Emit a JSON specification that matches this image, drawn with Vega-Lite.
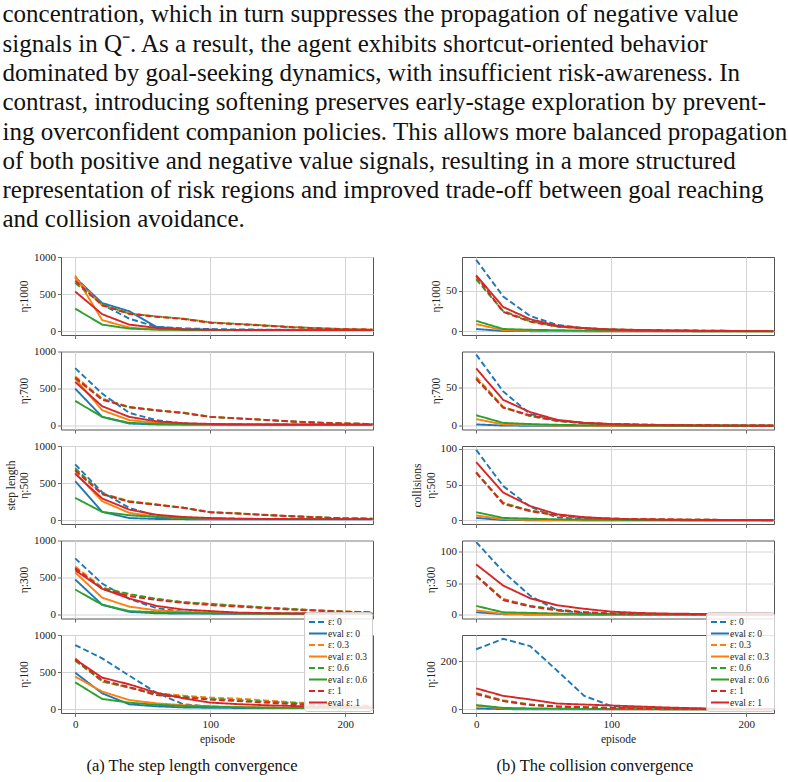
{
"$schema":"https://vega.github.io/schema/vega-lite/v6.json",
"padding":{"left":2,"top":2,"right":0,"bottom":0},
"background":"white",
"title":{"text":["concentration, which in turn suppresses the propagation of negative value","signals in Q⁻.  As a result, the agent exhibits shortcut-oriented behavior","dominated by goal-seeking dynamics, with insufficient risk-awareness.  In","contrast, introducing softening preserves early-stage exploration by prevent-","ing overconfident companion policies. This allows more balanced propagation","of both positive and negative value signals, resulting in a more structured","representation of risk regions and improved trade-off between goal reaching","and collision avoidance."],"anchor":"start","frame":"bounds","font":"Liberation Serif","fontSize":25,"fontWeight":"normal","lineHeight":29.3,"color":"#111","offset":18,"dx":-2},
"datasets":{
"lab":[{"k":"s0","label":"ε: 0"},{"k":"e0","label":"eval ε: 0"},{"k":"s3","label":"ε: 0.3"},{"k":"e3","label":"eval ε: 0.3"},{"k":"s6","label":"ε: 0.6"},{"k":"e6","label":"eval ε: 0.6"},{"k":"s1","label":"ε: 1"},{"k":"e1","label":"eval ε: 1"}],
"d":[
{"m":"s","eta":1000,"ep":0,"s0":730,"e0":720,"s3":720,"e3":750,"s6":650,"e6":305,"s1":680,"e1":535},
{"m":"s","eta":1000,"ep":20,"s0":360,"e0":380,"s3":350,"e3":150,"s6":360,"e6":90,"s1":350,"e1":230},
{"m":"s","eta":1000,"ep":40,"s0":170,"e0":270,"s3":240,"e3":50,"s6":240,"e6":36,"s1":235,"e1":90},
{"m":"s","eta":1000,"ep":60,"s0":60,"e0":60,"s3":200,"e3":25,"s6":200,"e6":22,"s1":195,"e1":45},
{"m":"s","eta":1000,"ep":80,"s0":40,"e0":30,"s3":170,"e3":20,"s6":170,"e6":18,"s1":165,"e1":25},
{"m":"s","eta":1000,"ep":100,"s0":30,"e0":20,"s3":120,"e3":18,"s6":120,"e6":16,"s1":115,"e1":20},
{"m":"s","eta":1000,"ep":120,"s0":25,"e0":18,"s3":100,"e3":16,"s6":100,"e6":15,"s1":95,"e1":18},
{"m":"s","eta":1000,"ep":140,"s0":22,"e0":16,"s3":80,"e3":15,"s6":80,"e6":15,"s1":75,"e1":17},
{"m":"s","eta":1000,"ep":160,"s0":20,"e0":15,"s3":60,"e3":15,"s6":55,"e6":15,"s1":55,"e1":16},
{"m":"s","eta":1000,"ep":180,"s0":18,"e0":15,"s3":40,"e3":15,"s6":40,"e6":15,"s1":40,"e1":16},
{"m":"s","eta":1000,"ep":200,"s0":18,"e0":15,"s3":30,"e3":15,"s6":28,"e6":15,"s1":28,"e1":15},
{"m":"s","eta":1000,"ep":220,"s0":18,"e0":15,"s3":25,"e3":15,"s6":22,"e6":15,"s1":22,"e1":15},
{"m":"s","eta":700,"ep":0,"s0":777,"e0":500,"s3":665,"e3":634,"s6":640,"e6":335,"s1":650,"e1":590},
{"m":"s","eta":700,"ep":20,"s0":433,"e0":120,"s3":366,"e3":210,"s6":360,"e6":120,"s1":350,"e1":263},
{"m":"s","eta":700,"ep":40,"s0":174,"e0":30,"s3":254,"e3":76,"s6":250,"e6":40,"s1":250,"e1":120},
{"m":"s","eta":700,"ep":60,"s0":76,"e0":18,"s3":210,"e3":40,"s6":205,"e6":25,"s1":210,"e1":60},
{"m":"s","eta":700,"ep":80,"s0":30,"e0":15,"s3":180,"e3":25,"s6":175,"e6":18,"s1":170,"e1":35},
{"m":"s","eta":700,"ep":100,"s0":22,"e0":15,"s3":120,"e3":20,"s6":120,"e6":16,"s1":120,"e1":25},
{"m":"s","eta":700,"ep":120,"s0":20,"e0":14,"s3":100,"e3":18,"s6":100,"e6":15,"s1":100,"e1":20},
{"m":"s","eta":700,"ep":140,"s0":18,"e0":14,"s3":80,"e3":16,"s6":80,"e6":15,"s1":80,"e1":18},
{"m":"s","eta":700,"ep":160,"s0":17,"e0":14,"s3":60,"e3":15,"s6":58,"e6":15,"s1":58,"e1":16},
{"m":"s","eta":700,"ep":180,"s0":17,"e0":14,"s3":45,"e3":15,"s6":42,"e6":15,"s1":42,"e1":16},
{"m":"s","eta":700,"ep":200,"s0":16,"e0":14,"s3":32,"e3":15,"s6":30,"e6":15,"s1":30,"e1":15},
{"m":"s","eta":700,"ep":220,"s0":16,"e0":14,"s3":25,"e3":15,"s6":24,"e6":15,"s1":24,"e1":15},
{"m":"s","eta":500,"ep":0,"s0":752,"e0":527,"s3":680,"e3":640,"s6":700,"e6":302,"s1":670,"e1":626},
{"m":"s","eta":500,"ep":20,"s0":378,"e0":113,"s3":360,"e3":257,"s6":360,"e6":113,"s1":350,"e1":293},
{"m":"s","eta":500,"ep":40,"s0":166,"e0":30,"s3":260,"e3":100,"s6":250,"e6":68,"s1":250,"e1":144},
{"m":"s","eta":500,"ep":60,"s0":60,"e0":18,"s3":215,"e3":50,"s6":210,"e6":45,"s1":210,"e1":75},
{"m":"s","eta":500,"ep":80,"s0":30,"e0":15,"s3":170,"e3":30,"s6":168,"e6":30,"s1":168,"e1":45},
{"m":"s","eta":500,"ep":100,"s0":22,"e0":14,"s3":110,"e3":22,"s6":108,"e6":22,"s1":108,"e1":30},
{"m":"s","eta":500,"ep":120,"s0":20,"e0":14,"s3":95,"e3":18,"s6":92,"e6":18,"s1":92,"e1":22},
{"m":"s","eta":500,"ep":140,"s0":18,"e0":14,"s3":75,"e3":16,"s6":72,"e6":16,"s1":72,"e1":18},
{"m":"s","eta":500,"ep":160,"s0":17,"e0":14,"s3":55,"e3":15,"s6":55,"e6":15,"s1":55,"e1":16},
{"m":"s","eta":500,"ep":180,"s0":16,"e0":14,"s3":40,"e3":15,"s6":40,"e6":15,"s1":40,"e1":16},
{"m":"s","eta":500,"ep":200,"s0":16,"e0":14,"s3":25,"e3":15,"s6":25,"e6":15,"s1":25,"e1":15},
{"m":"s","eta":500,"ep":220,"s0":16,"e0":14,"s3":22,"e3":15,"s6":22,"e6":15,"s1":22,"e1":15},
{"m":"s","eta":300,"ep":0,"s0":760,"e0":475,"s3":650,"e3":570,"s6":620,"e6":340,"s1":630,"e1":600},
{"m":"s","eta":300,"ep":20,"s0":420,"e0":135,"s3":370,"e3":230,"s6":360,"e6":135,"s1":350,"e1":350},
{"m":"s","eta":300,"ep":40,"s0":215,"e0":40,"s3":270,"e3":110,"s6":280,"e6":50,"s1":250,"e1":220},
{"m":"s","eta":300,"ep":60,"s0":90,"e0":20,"s3":210,"e3":60,"s6":215,"e6":35,"s1":200,"e1":120},
{"m":"s","eta":300,"ep":80,"s0":40,"e0":16,"s3":170,"e3":40,"s6":170,"e6":25,"s1":160,"e1":70},
{"m":"s","eta":300,"ep":100,"s0":25,"e0":15,"s3":148,"e3":28,"s6":145,"e6":20,"s1":130,"e1":50},
{"m":"s","eta":300,"ep":120,"s0":20,"e0":14,"s3":125,"e3":22,"s6":120,"e6":18,"s1":110,"e1":30},
{"m":"s","eta":300,"ep":140,"s0":18,"e0":14,"s3":100,"e3":18,"s6":98,"e6":16,"s1":90,"e1":22},
{"m":"s","eta":300,"ep":160,"s0":17,"e0":14,"s3":80,"e3":16,"s6":78,"e6":15,"s1":70,"e1":18},
{"m":"s","eta":300,"ep":180,"s0":16,"e0":14,"s3":60,"e3":15,"s6":58,"e6":15,"s1":55,"e1":16},
{"m":"s","eta":300,"ep":200,"s0":16,"e0":14,"s3":45,"e3":15,"s6":42,"e6":15,"s1":40,"e1":15},
{"m":"s","eta":300,"ep":220,"s0":16,"e0":14,"s3":35,"e3":15,"s6":33,"e6":15,"s1":32,"e1":15},
{"m":"s","eta":100,"ep":0,"s0":865,"e0":493,"s3":686,"e3":440,"s6":655,"e6":363,"s1":672,"e1":672},
{"m":"s","eta":100,"ep":20,"s0":686,"e0":215,"s3":372,"e3":238,"s6":380,"e6":139,"s1":390,"e1":426},
{"m":"s","eta":100,"ep":40,"s0":453,"e0":67,"s3":291,"e3":125,"s6":290,"e6":90,"s1":300,"e1":336},
{"m":"s","eta":100,"ep":60,"s0":224,"e0":40,"s3":215,"e3":80,"s6":205,"e6":60,"s1":190,"e1":224},
{"m":"s","eta":100,"ep":80,"s0":67,"e0":25,"s3":184,"e3":55,"s6":170,"e6":45,"s1":160,"e1":148},
{"m":"s","eta":100,"ep":100,"s0":36,"e0":20,"s3":157,"e3":40,"s6":140,"e6":35,"s1":130,"e1":90},
{"m":"s","eta":100,"ep":120,"s0":22,"e0":18,"s3":145,"e3":30,"s6":125,"e6":28,"s1":110,"e1":70},
{"m":"s","eta":100,"ep":140,"s0":20,"e0":16,"s3":120,"e3":25,"s6":105,"e6":22,"s1":90,"e1":55},
{"m":"s","eta":100,"ep":160,"s0":18,"e0":15,"s3":95,"e3":20,"s6":85,"e6":18,"s1":70,"e1":45},
{"m":"s","eta":100,"ep":180,"s0":18,"e0":15,"s3":75,"e3":18,"s6":65,"e6":16,"s1":55,"e1":35},
{"m":"s","eta":100,"ep":200,"s0":17,"e0":15,"s3":60,"e3":16,"s6":50,"e6":15,"s1":40,"e1":28},
{"m":"s","eta":100,"ep":220,"s0":17,"e0":15,"s3":45,"e3":16,"s6":40,"e6":15,"s1":30,"e1":22},
{"m":"c","eta":1000,"ep":0,"s0":88,"e0":3,"s3":65,"e3":9,"s6":64,"e6":13,"s1":68,"e1":69},
{"m":"c","eta":1000,"ep":20,"s0":43,"e0":0.5,"s3":25,"e3":1.5,"s6":25,"e6":3,"s1":24,"e1":30},
{"m":"c","eta":1000,"ep":40,"s0":19,"e0":0.3,"s3":12,"e3":0.8,"s6":13,"e6":2,"s1":12,"e1":15},
{"m":"c","eta":1000,"ep":60,"s0":8,"e0":0.2,"s3":6,"e3":0.5,"s6":6,"e6":1.5,"s1":6,"e1":7},
{"m":"c","eta":1000,"ep":80,"s0":4,"e0":0.1,"s3":3.5,"e3":0.3,"s6":4,"e6":1,"s1":4,"e1":4},
{"m":"c","eta":1000,"ep":100,"s0":2.5,"e0":0.1,"s3":2.5,"e3":0.2,"s6":2.5,"e6":0.8,"s1":2.5,"e1":2},
{"m":"c","eta":1000,"ep":120,"s0":1.5,"e0":0,"s3":1.8,"e3":0.1,"s6":1.8,"e6":0.5,"s1":1.8,"e1":1.5},
{"m":"c","eta":1000,"ep":140,"s0":1,"e0":0,"s3":1.3,"e3":0.1,"s6":1.3,"e6":0.4,"s1":1.3,"e1":1},
{"m":"c","eta":1000,"ep":160,"s0":0.8,"e0":0,"s3":1,"e3":0.1,"s6":1,"e6":0.3,"s1":1,"e1":0.8},
{"m":"c","eta":1000,"ep":180,"s0":0.6,"e0":0,"s3":0.8,"e3":0.1,"s6":0.8,"e6":0.2,"s1":0.8,"e1":0.5},
{"m":"c","eta":1000,"ep":200,"s0":0.5,"e0":0,"s3":0.6,"e3":0.1,"s6":0.6,"e6":0.2,"s1":0.6,"e1":0.4},
{"m":"c","eta":1000,"ep":220,"s0":0.5,"e0":0,"s3":0.5,"e3":0.1,"s6":0.5,"e6":0.2,"s1":0.5,"e1":0.3},
{"m":"c","eta":700,"ep":0,"s0":93,"e0":2,"s3":64,"e3":9,"s6":62,"e6":14,"s1":61,"e1":75},
{"m":"c","eta":700,"ep":20,"s0":45,"e0":0.5,"s3":25,"e3":2,"s6":24,"e6":4,"s1":24,"e1":34},
{"m":"c","eta":700,"ep":40,"s0":15.5,"e0":0.3,"s3":13,"e3":1,"s6":13,"e6":2.5,"s1":14,"e1":18},
{"m":"c","eta":700,"ep":60,"s0":7,"e0":0.2,"s3":6.5,"e3":0.6,"s6":6.5,"e6":1.5,"s1":7,"e1":8},
{"m":"c","eta":700,"ep":80,"s0":4,"e0":0.1,"s3":4,"e3":0.4,"s6":3.5,"e6":1,"s1":4,"e1":4},
{"m":"c","eta":700,"ep":100,"s0":2,"e0":0,"s3":2.5,"e3":0.3,"s6":2.5,"e6":0.8,"s1":2.5,"e1":2.5},
{"m":"c","eta":700,"ep":120,"s0":1.5,"e0":0,"s3":1.8,"e3":0.2,"s6":1.8,"e6":0.5,"s1":1.8,"e1":1.5},
{"m":"c","eta":700,"ep":140,"s0":1,"e0":0,"s3":1.3,"e3":0.1,"s6":1.3,"e6":0.4,"s1":1.3,"e1":1},
{"m":"c","eta":700,"ep":160,"s0":0.8,"e0":0,"s3":1,"e3":0.1,"s6":1,"e6":0.3,"s1":1,"e1":0.8},
{"m":"c","eta":700,"ep":180,"s0":0.6,"e0":0,"s3":0.8,"e3":0.1,"s6":0.8,"e6":0.2,"s1":0.8,"e1":0.5},
{"m":"c","eta":700,"ep":200,"s0":0.5,"e0":0,"s3":0.6,"e3":0.1,"s6":0.6,"e6":0.2,"s1":0.6,"e1":0.4},
{"m":"c","eta":700,"ep":220,"s0":0.5,"e0":0,"s3":0.5,"e3":0.1,"s6":0.5,"e6":0.2,"s1":0.5,"e1":0.3},
{"m":"c","eta":500,"ep":0,"s0":98.6,"e0":3.5,"s3":66,"e3":7,"s6":67,"e6":11.5,"s1":67,"e1":81.5},
{"m":"c","eta":500,"ep":20,"s0":48,"e0":0.5,"s3":25,"e3":1.5,"s6":24,"e6":3.5,"s1":23,"e1":39},
{"m":"c","eta":500,"ep":40,"s0":19,"e0":0.3,"s3":13,"e3":0.8,"s6":14,"e6":2.5,"s1":13,"e1":20},
{"m":"c","eta":500,"ep":60,"s0":4,"e0":0.2,"s3":7,"e3":0.5,"s6":8,"e6":1.5,"s1":7,"e1":8.5},
{"m":"c","eta":500,"ep":80,"s0":2,"e0":0.1,"s3":4,"e3":0.3,"s6":4,"e6":1,"s1":4,"e1":4.5},
{"m":"c","eta":500,"ep":100,"s0":1.5,"e0":0,"s3":2.5,"e3":0.2,"s6":2,"e6":0.8,"s1":2.5,"e1":2.5},
{"m":"c","eta":500,"ep":120,"s0":1,"e0":0,"s3":1.8,"e3":0.1,"s6":1.5,"e6":0.5,"s1":1.8,"e1":1.5},
{"m":"c","eta":500,"ep":140,"s0":0.8,"e0":0,"s3":1.3,"e3":0.1,"s6":1.2,"e6":0.4,"s1":1.3,"e1":1},
{"m":"c","eta":500,"ep":160,"s0":0.6,"e0":0,"s3":1,"e3":0.1,"s6":1,"e6":0.3,"s1":1,"e1":0.8},
{"m":"c","eta":500,"ep":180,"s0":0.5,"e0":0,"s3":0.8,"e3":0.1,"s6":0.8,"e6":0.2,"s1":0.8,"e1":0.5},
{"m":"c","eta":500,"ep":200,"s0":0.5,"e0":0,"s3":0.6,"e3":0.1,"s6":0.6,"e6":0.2,"s1":0.6,"e1":0.4},
{"m":"c","eta":500,"ep":220,"s0":0.5,"e0":0,"s3":0.5,"e3":0.1,"s6":0.5,"e6":0.2,"s1":0.5,"e1":0.3},
{"m":"c","eta":300,"ep":0,"s0":114.5,"e0":4,"s3":62,"e3":7,"s6":62,"e6":14,"s1":61,"e1":79.5},
{"m":"c","eta":300,"ep":20,"s0":68,"e0":1,"s3":25,"e3":1.5,"s6":24,"e6":4,"s1":23,"e1":46},
{"m":"c","eta":300,"ep":40,"s0":30,"e0":0.5,"s3":14,"e3":0.8,"s6":14,"e6":3,"s1":13,"e1":26},
{"m":"c","eta":300,"ep":60,"s0":7,"e0":0.3,"s3":8,"e3":0.5,"s6":8,"e6":2,"s1":7,"e1":15},
{"m":"c","eta":300,"ep":80,"s0":3,"e0":0.2,"s3":4,"e3":0.3,"s6":4,"e6":1.2,"s1":4,"e1":9.5},
{"m":"c","eta":300,"ep":100,"s0":1,"e0":0.1,"s3":2,"e3":0.2,"s6":2,"e6":0.8,"s1":2,"e1":5},
{"m":"c","eta":300,"ep":120,"s0":0.8,"e0":0,"s3":1.5,"e3":0.1,"s6":1.5,"e6":0.5,"s1":1.5,"e1":3},
{"m":"c","eta":300,"ep":140,"s0":0.6,"e0":0,"s3":1.2,"e3":0.1,"s6":1.2,"e6":0.4,"s1":1.2,"e1":2},
{"m":"c","eta":300,"ep":160,"s0":0.5,"e0":0,"s3":1,"e3":0.1,"s6":1,"e6":0.3,"s1":1,"e1":1.5},
{"m":"c","eta":300,"ep":180,"s0":0.5,"e0":0,"s3":0.8,"e3":0.1,"s6":0.8,"e6":0.2,"s1":0.8,"e1":1},
{"m":"c","eta":300,"ep":200,"s0":0.5,"e0":0,"s3":0.6,"e3":0.1,"s6":0.6,"e6":0.2,"s1":0.6,"e1":0.8},
{"m":"c","eta":300,"ep":220,"s0":0.5,"e0":0,"s3":0.5,"e3":0.1,"s6":0.5,"e6":0.2,"s1":0.5,"e1":0.6},
{"m":"c","eta":100,"ep":0,"s0":249,"e0":4,"s3":68,"e3":15,"s6":65,"e6":18,"s1":63,"e1":87},
{"m":"c","eta":100,"ep":20,"s0":292,"e0":1,"s3":38,"e3":4,"s6":35,"e6":6,"s1":34,"e1":56},
{"m":"c","eta":100,"ep":40,"s0":262,"e0":0.5,"s3":20,"e3":2,"s6":20,"e6":4,"s1":18,"e1":41},
{"m":"c","eta":100,"ep":60,"s0":160,"e0":0.3,"s3":12,"e3":1.5,"s6":12,"e6":3,"s1":12,"e1":24},
{"m":"c","eta":100,"ep":80,"s0":56,"e0":0.2,"s3":8,"e3":1,"s6":8,"e6":2,"s1":9,"e1":20},
{"m":"c","eta":100,"ep":100,"s0":14,"e0":0.1,"s3":6,"e3":0.8,"s6":5,"e6":1.5,"s1":6,"e1":16},
{"m":"c","eta":100,"ep":120,"s0":5,"e0":0,"s3":4,"e3":0.5,"s6":4,"e6":1,"s1":4,"e1":12},
{"m":"c","eta":100,"ep":140,"s0":2,"e0":0,"s3":3,"e3":0.4,"s6":3,"e6":0.8,"s1":3,"e1":8},
{"m":"c","eta":100,"ep":160,"s0":1.5,"e0":0,"s3":2.5,"e3":0.3,"s6":2.5,"e6":0.6,"s1":2,"e1":5},
{"m":"c","eta":100,"ep":180,"s0":1,"e0":0,"s3":2,"e3":0.2,"s6":2,"e6":0.5,"s1":1.5,"e1":3},
{"m":"c","eta":100,"ep":200,"s0":1,"e0":0,"s3":1.5,"e3":0.2,"s6":1.5,"e6":0.4,"s1":1,"e1":2},
{"m":"c","eta":100,"ep":220,"s0":1,"e0":0,"s3":1,"e3":0.2,"s6":1,"e6":0.3,"s1":1,"e1":1.5}
]},
"data":{"name":"d"},
"transform":[
{"fold":["s0","e0","s3","e3","s6","e6","s1","e1"],"as":["k","value"]},
{"lookup":"k","from":{"data":{"name":"lab"},"key":"k","fields":["label"]}}
],
"columns":2,
"bounds":"flush",
"spacing":{"row":16.5,"column":89},
"resolve":{"scale":{"color":"independent","strokeDash":"independent"},"legend":{"color":"independent","strokeDash":"independent"}},
"concat":[
{"width":312,"height":78,"transform":[{"filter":"datum.m=='s' && datum.eta==1000"}],"mark":{"type":"line","strokeWidth":1.9},
"encoding":{"x":{"field":"ep","type":"quantitative","scale":{"domain":[-10.5,220.5],"nice":false,"zero":false},"axis":{"values":[0,100,200],"labels":false,"title":null}},
"y":{"field":"value","type":"quantitative","scale":{"domain":[-50,1000],"nice":false,"zero":false},"axis":{"values":[0,500,1000],"format":"d","title":"η:1000"}},
"color":{"field":"label","type":"nominal","scale":{"domain":["ε: 0","eval ε: 0","ε: 0.3","eval ε: 0.3","ε: 0.6","eval ε: 0.6","ε: 1","eval ε: 1"],"range":["#1f77b4","#1f77b4","#ff7f0e","#ff7f0e","#2ca02c","#2ca02c","#d62728","#d62728"]},"legend":null},
"strokeDash":{"field":"label","type":"nominal","scale":{"domain":["ε: 0","eval ε: 0","ε: 0.3","eval ε: 0.3","ε: 0.6","eval ε: 0.6","ε: 1","eval ε: 1"],"range":[[6,3],[1,0],[6,3],[1,0],[6,3],[1,0],[6,3],[1,0]]},"legend":null}}},
{"width":312,"height":78,"transform":[{"filter":"datum.m=='c' && datum.eta==1000"}],"mark":{"type":"line","strokeWidth":1.9},
"encoding":{"x":{"field":"ep","type":"quantitative","scale":{"domain":[-10.5,220.5],"nice":false,"zero":false},"axis":{"values":[0,100,200],"labels":false,"title":null}},
"y":{"field":"value","type":"quantitative","scale":{"domain":[-4.4,91.5],"nice":false,"zero":false},"axis":{"values":[0,50],"format":"d","title":"η:1000"}},
"color":{"field":"label","type":"nominal","scale":{"domain":["ε: 0","eval ε: 0","ε: 0.3","eval ε: 0.3","ε: 0.6","eval ε: 0.6","ε: 1","eval ε: 1"],"range":["#1f77b4","#1f77b4","#ff7f0e","#ff7f0e","#2ca02c","#2ca02c","#d62728","#d62728"]},"legend":null},
"strokeDash":{"field":"label","type":"nominal","scale":{"domain":["ε: 0","eval ε: 0","ε: 0.3","eval ε: 0.3","ε: 0.6","eval ε: 0.6","ε: 1","eval ε: 1"],"range":[[6,3],[1,0],[6,3],[1,0],[6,3],[1,0],[6,3],[1,0]]},"legend":null}}},
{"width":312,"height":78,"transform":[{"filter":"datum.m=='s' && datum.eta==700"}],"mark":{"type":"line","strokeWidth":1.9},
"encoding":{"x":{"field":"ep","type":"quantitative","scale":{"domain":[-10.5,220.5],"nice":false,"zero":false},"axis":{"values":[0,100,200],"labels":false,"title":null}},
"y":{"field":"value","type":"quantitative","scale":{"domain":[-50,1000],"nice":false,"zero":false},"axis":{"values":[0,500,1000],"format":"d","title":"η:700"}},
"color":{"field":"label","type":"nominal","scale":{"domain":["ε: 0","eval ε: 0","ε: 0.3","eval ε: 0.3","ε: 0.6","eval ε: 0.6","ε: 1","eval ε: 1"],"range":["#1f77b4","#1f77b4","#ff7f0e","#ff7f0e","#2ca02c","#2ca02c","#d62728","#d62728"]},"legend":null},
"strokeDash":{"field":"label","type":"nominal","scale":{"domain":["ε: 0","eval ε: 0","ε: 0.3","eval ε: 0.3","ε: 0.6","eval ε: 0.6","ε: 1","eval ε: 1"],"range":[[6,3],[1,0],[6,3],[1,0],[6,3],[1,0],[6,3],[1,0]]},"legend":null}}},
{"width":312,"height":78,"transform":[{"filter":"datum.m=='c' && datum.eta==700"}],"mark":{"type":"line","strokeWidth":1.9},
"encoding":{"x":{"field":"ep","type":"quantitative","scale":{"domain":[-10.5,220.5],"nice":false,"zero":false},"axis":{"values":[0,100,200],"labels":false,"title":null}},
"y":{"field":"value","type":"quantitative","scale":{"domain":[-4.6,97],"nice":false,"zero":false},"axis":{"values":[0,50],"format":"d","title":"η:700"}},
"color":{"field":"label","type":"nominal","scale":{"domain":["ε: 0","eval ε: 0","ε: 0.3","eval ε: 0.3","ε: 0.6","eval ε: 0.6","ε: 1","eval ε: 1"],"range":["#1f77b4","#1f77b4","#ff7f0e","#ff7f0e","#2ca02c","#2ca02c","#d62728","#d62728"]},"legend":null},
"strokeDash":{"field":"label","type":"nominal","scale":{"domain":["ε: 0","eval ε: 0","ε: 0.3","eval ε: 0.3","ε: 0.6","eval ε: 0.6","ε: 1","eval ε: 1"],"range":[[6,3],[1,0],[6,3],[1,0],[6,3],[1,0],[6,3],[1,0]]},"legend":null}}},
{"width":312,"height":78,"transform":[{"filter":"datum.m=='s' && datum.eta==500"}],"mark":{"type":"line","strokeWidth":1.9},
"encoding":{"x":{"field":"ep","type":"quantitative","scale":{"domain":[-10.5,220.5],"nice":false,"zero":false},"axis":{"values":[0,100,200],"labels":false,"title":null}},
"y":{"field":"value","type":"quantitative","scale":{"domain":[-50,1000],"nice":false,"zero":false},"axis":{"values":[0,500,1000],"format":"d","title":["step length","η:500"]}},
"color":{"field":"label","type":"nominal","scale":{"domain":["ε: 0","eval ε: 0","ε: 0.3","eval ε: 0.3","ε: 0.6","eval ε: 0.6","ε: 1","eval ε: 1"],"range":["#1f77b4","#1f77b4","#ff7f0e","#ff7f0e","#2ca02c","#2ca02c","#d62728","#d62728"]},"legend":null},
"strokeDash":{"field":"label","type":"nominal","scale":{"domain":["ε: 0","eval ε: 0","ε: 0.3","eval ε: 0.3","ε: 0.6","eval ε: 0.6","ε: 1","eval ε: 1"],"range":[[6,3],[1,0],[6,3],[1,0],[6,3],[1,0],[6,3],[1,0]]},"legend":null}}},
{"width":312,"height":78,"transform":[{"filter":"datum.m=='c' && datum.eta==500"}],"mark":{"type":"line","strokeWidth":1.9},
"encoding":{"x":{"field":"ep","type":"quantitative","scale":{"domain":[-10.5,220.5],"nice":false,"zero":false},"axis":{"values":[0,100,200],"labels":false,"title":null}},
"y":{"field":"value","type":"quantitative","scale":{"domain":[-5,104],"nice":false,"zero":false},"axis":{"values":[0,50,100],"format":"d","title":["collisions","η:500"]}},
"color":{"field":"label","type":"nominal","scale":{"domain":["ε: 0","eval ε: 0","ε: 0.3","eval ε: 0.3","ε: 0.6","eval ε: 0.6","ε: 1","eval ε: 1"],"range":["#1f77b4","#1f77b4","#ff7f0e","#ff7f0e","#2ca02c","#2ca02c","#d62728","#d62728"]},"legend":null},
"strokeDash":{"field":"label","type":"nominal","scale":{"domain":["ε: 0","eval ε: 0","ε: 0.3","eval ε: 0.3","ε: 0.6","eval ε: 0.6","ε: 1","eval ε: 1"],"range":[[6,3],[1,0],[6,3],[1,0],[6,3],[1,0],[6,3],[1,0]]},"legend":null}}},
{"width":312,"height":78,"transform":[{"filter":"datum.m=='s' && datum.eta==300"}],"mark":{"type":"line","strokeWidth":1.9},
"encoding":{"x":{"field":"ep","type":"quantitative","scale":{"domain":[-10.5,220.5],"nice":false,"zero":false},"axis":{"values":[0,100,200],"labels":false,"title":null}},
"y":{"field":"value","type":"quantitative","scale":{"domain":[-50,1000],"nice":false,"zero":false},"axis":{"values":[0,500,1000],"format":"d","title":"η:300"}},
"color":{"field":"label","type":"nominal","scale":{"domain":["ε: 0","eval ε: 0","ε: 0.3","eval ε: 0.3","ε: 0.6","eval ε: 0.6","ε: 1","eval ε: 1"],"range":["#1f77b4","#1f77b4","#ff7f0e","#ff7f0e","#2ca02c","#2ca02c","#d62728","#d62728"]},"legend":null},
"strokeDash":{"field":"label","type":"nominal","scale":{"domain":["ε: 0","eval ε: 0","ε: 0.3","eval ε: 0.3","ε: 0.6","eval ε: 0.6","ε: 1","eval ε: 1"],"range":[[6,3],[1,0],[6,3],[1,0],[6,3],[1,0],[6,3],[1,0]]},"legend":null}}},
{"width":312,"height":78,"transform":[{"filter":"datum.m=='c' && datum.eta==300"}],"mark":{"type":"line","strokeWidth":1.9},
"encoding":{"x":{"field":"ep","type":"quantitative","scale":{"domain":[-10.5,220.5],"nice":false,"zero":false},"axis":{"values":[0,100,200],"labels":false,"title":null}},
"y":{"field":"value","type":"quantitative","scale":{"domain":[-5.8,117],"nice":false,"zero":false},"axis":{"values":[0,50,100],"format":"d","title":"η:300"}},
"color":{"field":"label","type":"nominal","scale":{"domain":["ε: 0","eval ε: 0","ε: 0.3","eval ε: 0.3","ε: 0.6","eval ε: 0.6","ε: 1","eval ε: 1"],"range":["#1f77b4","#1f77b4","#ff7f0e","#ff7f0e","#2ca02c","#2ca02c","#d62728","#d62728"]},"legend":null},
"strokeDash":{"field":"label","type":"nominal","scale":{"domain":["ε: 0","eval ε: 0","ε: 0.3","eval ε: 0.3","ε: 0.6","eval ε: 0.6","ε: 1","eval ε: 1"],"range":[[6,3],[1,0],[6,3],[1,0],[6,3],[1,0],[6,3],[1,0]]},"legend":null}}},
{"width":312,"height":78,"title":{"text":"(a) The step length convergence","orient":"bottom","font":"Liberation Serif","fontSize":16.5,"fontWeight":"normal","color":"#111","offset":13,"dx":-25},
"transform":[{"filter":"datum.m=='s' && datum.eta==100"}],"mark":{"type":"line","strokeWidth":1.9},
"encoding":{"x":{"field":"ep","type":"quantitative","scale":{"domain":[-10.5,220.5],"nice":false,"zero":false},"axis":{"values":[0,100,200],"title":"episode"}},
"y":{"field":"value","type":"quantitative","scale":{"domain":[-50,1000],"nice":false,"zero":false},"axis":{"values":[0,500,1000],"format":"d","title":"η:100"}},
"color":{"field":"label","type":"nominal","scale":{"domain":["ε: 0","eval ε: 0","ε: 0.3","eval ε: 0.3","ε: 0.6","eval ε: 0.6","ε: 1","eval ε: 1"],"range":["#1f77b4","#1f77b4","#ff7f0e","#ff7f0e","#2ca02c","#2ca02c","#d62728","#d62728"]},"legend":{"title":null,"orient":"none","legendX":243,"legendY":-23}},
"strokeDash":{"field":"label","type":"nominal","scale":{"domain":["ε: 0","eval ε: 0","ε: 0.3","eval ε: 0.3","ε: 0.6","eval ε: 0.6","ε: 1","eval ε: 1"],"range":[[6,3],[1,0],[6,3],[1,0],[6,3],[1,0],[6,3],[1,0]]},"legend":{"title":null,"orient":"none","legendX":243,"legendY":-23}}}},
{"width":312,"height":78,"title":{"text":"(b) The collision convergence","orient":"bottom","font":"Liberation Serif","fontSize":16.5,"fontWeight":"normal","color":"#111","offset":13,"dx":-23},
"transform":[{"filter":"datum.m=='c' && datum.eta==100"}],"mark":{"type":"line","strokeWidth":1.9},
"encoding":{"x":{"field":"ep","type":"quantitative","scale":{"domain":[-10.5,220.5],"nice":false,"zero":false},"axis":{"values":[0,100,200],"title":"episode"}},
"y":{"field":"value","type":"quantitative","scale":{"domain":[-15,308],"nice":false,"zero":false},"axis":{"values":[0,200],"format":"d","title":"η:100"}},
"color":{"field":"label","type":"nominal","scale":{"domain":["ε: 0","eval ε: 0","ε: 0.3","eval ε: 0.3","ε: 0.6","eval ε: 0.6","ε: 1","eval ε: 1"],"range":["#1f77b4","#1f77b4","#ff7f0e","#ff7f0e","#2ca02c","#2ca02c","#d62728","#d62728"]},"legend":{"title":null,"orient":"none","legendX":244,"legendY":-23}},
"strokeDash":{"field":"label","type":"nominal","scale":{"domain":["ε: 0","eval ε: 0","ε: 0.3","eval ε: 0.3","ε: 0.6","eval ε: 0.6","ε: 1","eval ε: 1"],"range":[[6,3],[1,0],[6,3],[1,0],[6,3],[1,0],[6,3],[1,0]]},"legend":{"title":null,"orient":"none","legendX":244,"legendY":-23}}}}
],
"config":{
"font":"Liberation Serif",
"title":{"font":"Liberation Serif","fontWeight":"normal","color":"#111"},
"view":{"stroke":"#555","strokeWidth":1},
"axis":{"domain":false,"grid":true,"gridColor":"#d4d4d4","gridWidth":1,"tickColor":"#444","tickSize":3.5,"tickWidth":0.8,"labelFont":"Liberation Serif","labelFontSize":11,"labelColor":"#222","labelPadding":2,"titleFont":"Liberation Serif","titleFontSize":11.5,"titleFontWeight":"normal","titleColor":"#222","titlePadding":4},
"legend":{"symbolType":"M-1,0H2.6","symbolStrokeWidth":2,"symbolSize":100,"labelFont":"Liberation Serif","labelFontSize":9.5,"labelColor":"#222","labelOffset":8,"rowPadding":0.5,"padding":4,"fillColor":"rgba(255,255,255,0.85)","strokeColor":"#cccccc","cornerRadius":3}
}
}
